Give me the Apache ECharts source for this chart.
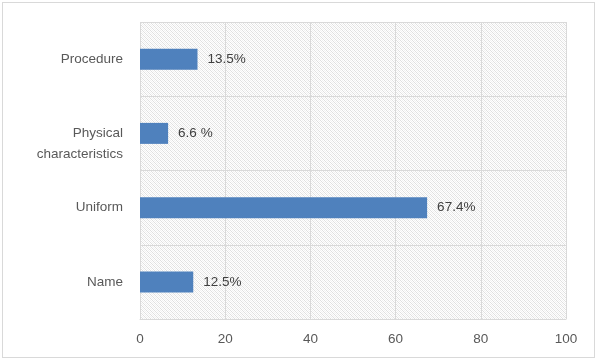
<!DOCTYPE html>
<html>
<head>
<meta charset="utf-8">
<script src="https://cdn.jsdelivr.net/npm/echarts@6/dist/echarts.min.js"></script>
<style>
html,body{margin:0;padding:0;background:#fff;}
#frame{position:absolute;left:2px;top:2px;width:593px;height:356px;border:1px solid #d9d9d9;box-sizing:border-box;}
#chart{position:absolute;left:0;top:0;width:603px;height:364px;}
</style>
</head>
<body>
<div id="frame"></div>
<div id="chart"></div>
<script>
// Data (bottom to top in category order)
const categories = ['Name', 'Uniform', 'Physical\ncharacteristics', 'Procedure'];
const values = [12.5, 67.4, 6.6, 13.5];
const valueLabels = ['12.5%', '67.4%', '6.6 %', '13.5%'];
const xTicks = [0, 20, 40, 60, 80, 100];

// hatch pattern
const pc = document.createElement('canvas');
pc.width = 4; pc.height = 4;
const pctx = pc.getContext('2d');
pctx.fillStyle = '#ffffff';
pctx.fillRect(0, 0, 4, 4);
pctx.fillStyle = '#e0e0e0';
for (let i = 0; i < 4; i++) { pctx.fillRect(i, i, 1, 1); }
pctx.fillStyle = '#f0f0f0';
for (let i = 0; i < 4; i++) { pctx.fillRect((i + 2) % 4, i, 1, 1); }

const chart = echarts.init(document.getElementById('chart'), null, {renderer: 'canvas'});
const font = '"Liberation Sans", Arial, sans-serif';
chart.setOption({
  animation: false,
  grid: {
    left: 140, right: 37, top: 22, bottom: 45,
    show: true,
    borderWidth: 0,
    backgroundColor: {image: pc, repeat: 'repeat'}
  },
  xAxis: {
    type: 'value',
    min: xTicks[0], max: xTicks[xTicks.length - 1], interval: 20,
    axisLine: {show: true, lineStyle: {color: '#d9d9d9'}},
    axisTick: {show: false},
    splitLine: {show: true, lineStyle: {color: '#d9d9d9'}},
    axisLabel: {color: '#595959', fontFamily: font, fontSize: 13.5, margin: 13}
  },
  yAxis: {
    type: 'category',
    data: categories,
    axisLine: {show: false},
    axisTick: {show: false},
    splitLine: {show: true, lineStyle: {color: '#d9d9d9'}},
    axisLabel: {
      color: '#595959', fontFamily: font, fontSize: 13.5, margin: 17, lineHeight: 21, align: 'right',
      formatter: v => v.indexOf('\n') >= 0 ? '\n' + v : v
    }
  },
  series: [{
    type: 'bar',
    data: values,
    barWidth: 21,
    itemStyle: {color: '#4f81bd'},
    label: {
      show: true, position: 'right', distance: 10,
      color: '#404040', fontFamily: font, fontSize: 13.5,
      formatter: p => valueLabels[p.dataIndex]
    }
  }]
});
</script>
</body>
</html>
